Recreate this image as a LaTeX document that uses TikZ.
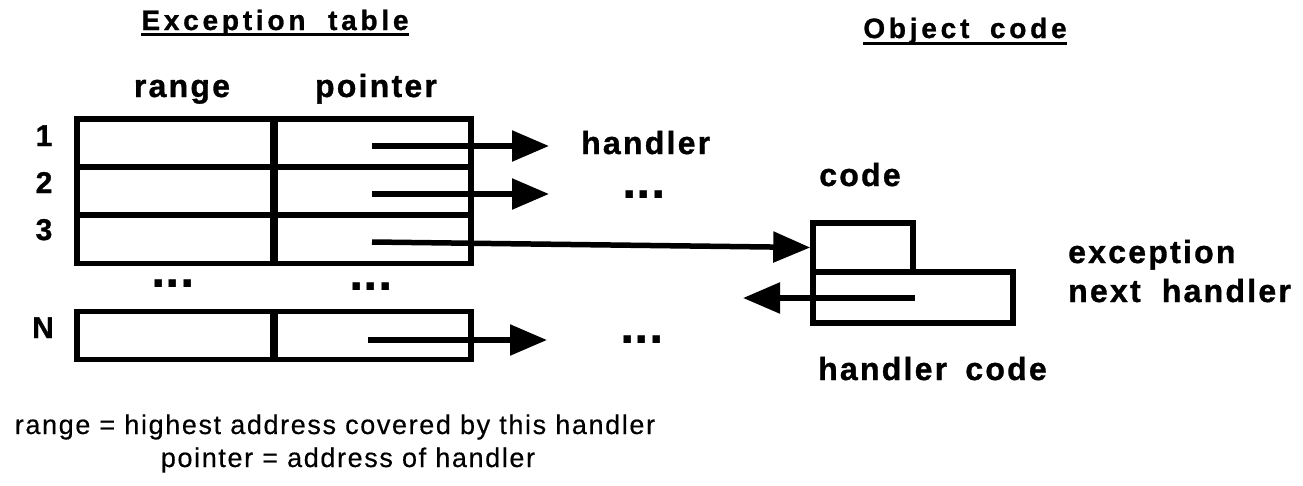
\documentclass[tikz,border=0pt]{standalone}
\usepackage{fontspec}
\setmainfont{Liberation Sans}
\newfontfamily\titlefont{Liberation Sans Bold}[LetterSpace=13.5, FakeBold=1]
\newfontfamily\lblfont{Liberation Sans Bold}[LetterSpace=7, FakeBold=1]
\newfontfamily\numfont{Liberation Sans Bold}[FakeBold=1]
\newfontfamily\dotfont{Liberation Sans Bold}
\newfontfamily\notefont{Liberation Sans}[LetterSpace=6, FakeBold=0.4]
\usetikzlibrary{arrows.meta}
\tikzset{
  cell/.style={draw, line width=5.5pt, inner sep=0pt,
    minimum width=196pt, minimum height=48pt},
  box/.style={draw, line width=5.5pt, inner sep=0pt},
  ptr/.style={line width=5.5pt, -{Triangle[length=37pt,width=30pt]}},
  title/.style={font={\titlefont\fontsize{28}{33}\selectfont}, inner sep=0pt, anchor=base},
  lbl/.style={font={\lblfont\fontsize{32}{38}\selectfont}, inner sep=0pt, anchor=base},
  num/.style={font={\numfont\fontsize{30}{36}\selectfont}, inner sep=0pt, anchor=base},
  dots/.style={font={\dotfont\fontsize{52}{60}\selectfont}, inner sep=0pt, anchor=base},
  note/.style={font={\notefont\fontsize{27}{32}\selectfont}, inner sep=0pt, anchor=base},
  ul/.style={line width=3pt}
}
\begin{document}
\begin{tikzpicture}[x=1pt,y=-1pt]
\useasboundingbox (0,0) rectangle (1303,485);

% titles
\node[title] (ttab) at (275,30) {Exception\hspace{11pt} table};
\node[title] (tobj) at (965,38) {Object\hspace{9pt} code};
\draw[ul] ([yshift=-4.5pt]ttab.base west) -- ([yshift=-4.5pt]ttab.base east);
\draw[ul] ([yshift=-5pt]tobj.base west) -- ([yshift=-5pt]tobj.base east);

% column headers
\node[lbl] (hrange) at (182,97) {range};
\node[lbl] (hptr) at (376,97) {pointer};

% exception table rows
\node[cell] (r1) at (175,143) {};
\node[cell] (p1) at (373,143) {};
\node[cell] (r2) at (175,191) {};
\node[cell] (p2) at (373,191) {};
\node[cell] (r3) at (175,239.5) {};
\node[cell] (p3) at (373,239.5) {};
\node[cell] (rn) at (175,335.5) {};
\node[cell] (pn) at (373,335.5) {};

% row numbers
\node[num] (n1) at (44,146) {1};
\node[num] (n2) at (44,193) {2};
\node[num] (n3) at (44,240) {3};
\node[num] (nn) at (43,338) {N};

% elided rows
\node[dots] (d1) at (173,287) {...};
\node[dots] (d2) at (371,290) {...};

% handlers
\node[lbl, anchor=base west] (h1) at (581,154) {handler};
\node[dots] (h2) at (644,198) {...};
\node[dots] (hn) at (642,343) {...};

% object code
\node[lbl] (lcode) at (860,186) {code};
\node[box, minimum width=100pt, minimum height=49pt] (code) at (863,247.5) {};
\node[box, minimum width=200pt, minimum height=51pt] (hcode) at (913,297.5) {};
\node[lbl, anchor=base west] (lexc) at (1068,263) {exception};
\node[lbl, anchor=base west] (lnext) at (1068,302) {next\hspace{10pt} handler};
\node[lbl, anchor=base west] (lhc) at (818,380) {handler\hspace{7pt} code};

% pointers
\coordinate (s1) at (372,146);
\coordinate (e1) at (549,146);
\coordinate (s2) at (372,194);
\coordinate (e2) at (549,194);
\coordinate (s3) at (372,242);
\coordinate (sn) at (368,340);
\coordinate (en) at (547,340);
\coordinate (sb) at (915,298);
\coordinate (eb) at (743,298);
\draw[ptr] (s1) -- (e1);
\draw[ptr] (s2) -- (e2);
\draw[ptr] (s3) -- (code.west);
\draw[ptr] (sn) -- (en);
\draw[ptr] (sb) -- (eb);

% notes
\node[note] (note1) at (335,434) {range = highest address covered by this handler};
\node[note] (note2) at (348,467) {pointer = address of handler};
\end{tikzpicture}
\end{document}
